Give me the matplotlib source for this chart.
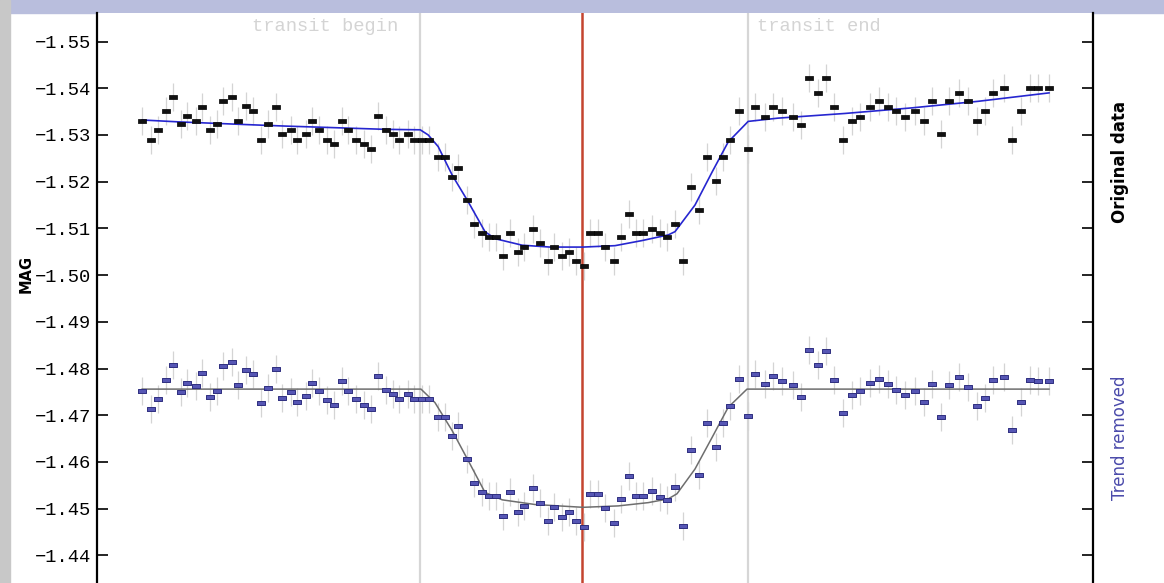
import matplotlib.pyplot as plt
from matplotlib.patches import Rectangle
from matplotlib.transforms import blended_transform_factory

# time (minutes, arbitrary zero) and magnitudes
times = [11.3, 13.5, 15.2, 17.2, 18.9, 20.9, 22.6, 24.7, 26.3, 28.3,
         30.0, 31.4, 33.7, 35.3, 37.3, 39.0, 40.9, 42.7, 44.8, 46.3,
         48.4, 50.1, 52.2, 53.8, 55.5, 57.4, 59.3, 61.2, 62.8, 64.8,
         66.7, 68.6, 70.3, 72.2, 73.9, 75.6, 77.7, 79.3, 81.3, 83.0,
         85.2, 87.0, 88.8, 90.3, 92.6, 94.3, 96.2, 98.0, 99.7, 101.5,
         103.2, 105.2, 106.8, 108.9, 110.7, 112.7, 114.3, 116.3, 118.1, 119.7,
         121.7, 123.3, 125.3, 127.1, 129.3, 130.9, 132.9, 134.8, 136.6, 138.7,
         140.8, 142.6, 144.5, 146.6, 148.4, 150.4, 152.6, 154.8, 156.4, 158.3,
         160.5, 162.7, 164.5, 167.0, 169.1, 171.2, 173.9, 176.0, 178.0, 180.2,
         182.2, 184.3, 186.4, 188.7, 190.8, 193.3, 195.4, 197.7, 199.8, 202.0,
         204.5, 206.7, 208.8, 211.0, 213.0, 215.6, 217.7, 219.9, 222.0, 224.1,
         226.7, 228.8, 231.0, 233.3, 235.3, 238.0]

mag_original = [-1.5330, -1.5289, -1.5310, -1.5351, -1.5381, -1.5323, -1.5341, -1.5330, -1.5360, -1.5310,
                -1.5323, -1.5372, -1.5381, -1.5330, -1.5361, -1.5351, -1.5289, -1.5323, -1.5360, -1.5302,
                -1.5310, -1.5289, -1.5302, -1.5330, -1.5310, -1.5289, -1.5280, -1.5330, -1.5310, -1.5289,
                -1.5280, -1.5269, -1.5340, -1.5310, -1.5302, -1.5289, -1.5302, -1.5289, -1.5289, -1.5289,
                -1.5252, -1.5252, -1.5210, -1.5230, -1.5160, -1.5110, -1.5090, -1.5081, -1.5081, -1.5040,
                -1.5090, -1.5049, -1.5060, -1.5098, -1.5068, -1.5031, -1.5060, -1.5040, -1.5049, -1.5031,
                -1.5019, -1.5090, -1.5090, -1.5060, -1.5031, -1.5081, -1.5131, -1.5090, -1.5090, -1.5098,
                -1.5090, -1.5081, -1.5110, -1.5031, -1.5189, -1.5140, -1.5252, -1.5202, -1.5252, -1.5289,
                -1.5351, -1.5269, -1.5360, -1.5339, -1.5360, -1.5351, -1.5339, -1.5322, -1.5422, -1.5389,
                -1.5422, -1.5360, -1.5289, -1.5330, -1.5339, -1.5360, -1.5372, -1.5360, -1.5351, -1.5339,
                -1.5351, -1.5330, -1.5372, -1.5302, -1.5372, -1.5389, -1.5372, -1.5330, -1.5351, -1.5389,
                -1.5401, -1.5289, -1.5351, -1.5401, -1.5401, -1.5401]

mag_detrended = [-1.4752, -1.4713, -1.4735, -1.4776, -1.4808, -1.4749, -1.4770, -1.4763, -1.4791, -1.4740,
                 -1.4752, -1.4805, -1.4814, -1.4764, -1.4796, -1.4788, -1.4726, -1.4758, -1.4799, -1.4737,
                 -1.4749, -1.4729, -1.4741, -1.4770, -1.4752, -1.4732, -1.4723, -1.4773, -1.4752, -1.4735,
                 -1.4723, -1.4714, -1.4785, -1.4755, -1.4746, -1.4735, -1.4746, -1.4735, -1.4735, -1.4735,
                 -1.4697, -1.4697, -1.4656, -1.4676, -1.4606, -1.4555, -1.4535, -1.4527, -1.4527, -1.4485,
                 -1.4535, -1.4494, -1.4506, -1.4544, -1.4513, -1.4473, -1.4503, -1.4482, -1.4493, -1.4473,
                 -1.4461, -1.4532, -1.4532, -1.4502, -1.4470, -1.4520, -1.4569, -1.4528, -1.4528, -1.4538,
                 -1.4526, -1.4518, -1.4546, -1.4464, -1.4626, -1.4573, -1.4683, -1.4632, -1.4683, -1.4720,
                 -1.4778, -1.4698, -1.4788, -1.4767, -1.4784, -1.4773, -1.4764, -1.4740, -1.4840, -1.4808,
                 -1.4837, -1.4776, -1.4705, -1.4743, -1.4752, -1.4769, -1.4778, -1.4767, -1.4754, -1.4743,
                 -1.4752, -1.4729, -1.4767, -1.4696, -1.4764, -1.4781, -1.4761, -1.4720, -1.4737, -1.4776,
                 -1.4781, -1.4669, -1.4729, -1.4776, -1.4773, -1.4773]

mag_err = 0.003

# fitted transit models
model_t_orig = [11.3, 20.3, 37.8, 47.0, 57.8, 72.0, 80.8, 82.8, 85.3, 88.8,
                92.8, 97.0, 99.5, 106.3, 113.3, 121.5, 129.5, 136.3, 142.8, 144.5,
                149.5, 153.8, 157.8, 162.8, 170.3, 187.0, 203.8, 220.3, 238.0]
model_orig = [-1.5332, -1.5328, -1.5322, -1.5319, -1.5316, -1.5312, -1.5311, -1.5300, -1.5275, -1.5214,
              -1.5157, -1.5093, -1.5078, -1.5064, -1.5060, -1.5060, -1.5063, -1.5074, -1.5086, -1.5093,
              -1.5150, -1.5221, -1.5285, -1.5329, -1.5336, -1.5346, -1.5358, -1.5372, -1.5390]

model_t_flat = [11.3, 81.0, 84.5, 88.8, 92.8, 97.0, 101.3, 109.5, 121.5, 130.3,
                137.8, 142.8, 145.0, 149.5, 153.8, 157.8, 162.5, 238.0]
model_flat = [-1.4756, -1.4756, -1.4727, -1.4667, -1.4603, -1.4535, -1.4519, -1.4509, -1.4503, -1.4506,
              -1.4513, -1.4521, -1.4532, -1.4585, -1.4653, -1.4717, -1.4756, -1.4756]

t_begin, t_mid, t_end = 80.75, 121.25, 162.75
y_ticks = [-1.55, -1.54, -1.53, -1.52, -1.51, -1.50, -1.49, -1.48, -1.47, -1.46, -1.45, -1.44]

plt.rcParams['font.family'] = ['Liberation Mono', 'DejaVu Sans']

fig = plt.figure(figsize=(11.64, 5.83), dpi=100)
fig.add_artist(Rectangle((0, 1 - 13 / 583), 1, 13 / 583, transform=fig.transFigure,
                         color='#b9bedd', zorder=0))
fig.add_artist(Rectangle((0, 0), 10 / 1164, 1, transform=fig.transFigure,
                         color='#c8c8c8', zorder=0))

ax = fig.add_axes([97 / 1164, 0, 996 / 1164, 1 - 13 / 583])
ax.set_xlim(0, 249)
ax.set_ylim(-1.4341, -1.5561)

# transit markers
ax.axvline(t_begin, color='#d6d6d6', lw=1.6, zorder=1)
ax.axvline(t_end, color='#d6d6d6', lw=1.6, zorder=1)
ax.axvline(t_mid, color='#c4442f', lw=1.8, zorder=2)
trans = blended_transform_factory(ax.transData, ax.transAxes)
ax.text(t_begin - 5.5, 0.977, 'transit begin', transform=trans, ha='right', va='center',
        color='#d4d4d4', fontsize=13.5)
ax.text(t_end + 2.2, 0.977, 'transit end', transform=trans, ha='left', va='center',
        color='#d4d4d4', fontsize=13.5)

# error bars
ax.errorbar(times, mag_original, yerr=mag_err, fmt='none', ecolor='#d4d4d4', elinewidth=0.9, zorder=2)
ax.errorbar(times, mag_detrended, yerr=mag_err, fmt='none', ecolor='#d4d4d4', elinewidth=0.9, zorder=2)

# models
ax.plot(model_t_orig, model_orig, color='#2626d0', lw=1.2, zorder=3)
ax.plot(model_t_flat, model_flat, color='#6e6e6e', lw=1.1, zorder=3)

# data points
box = [(-1.8, -1.05), (1.8, -1.05), (1.8, 1.05), (-1.8, 1.05), (-1.8, -1.05)]
ax.plot(times, mag_original, ls='none', marker=box, markersize=6,
        mfc='#111111', mec='#000000', mew=0.5, zorder=4)
ax.plot(times, mag_detrended, ls='none', marker=box, markersize=6,
        mfc='#5656b4', mec='#2f2f80', mew=0.7, zorder=4)

ax.set_yticks(y_ticks)
ax.set_yticklabels([f"{v:.2f}".replace('-', '\u2212') for v in y_ticks], fontsize=13.5)
ax.set_xticks([])
ax.tick_params(axis='y', direction='in', length=8, width=1.2, left=True, right=True,
               labelleft=True, labelright=False, pad=4)
for side in ['top', 'bottom']:
    ax.spines[side].set_visible(False)
for side in ['left', 'right']:
    ax.spines[side].set_linewidth(1.6)

# axis captions
fig.text(26 / 1164, 1 - 274 / 583, 'MAG', rotation=90, ha='center', va='center',
         fontsize=10.5, fontweight='bold', family='DejaVu Sans')
fig.text(1120 / 1164, 1 - 162 / 583, 'Original data', rotation=90, ha='center', va='center',
         fontsize=12, fontweight='bold', family='DejaVu Sans')
fig.text(1120 / 1164, 1 - 438 / 583, 'Trend removed', rotation=90, ha='center', va='center',
         fontsize=12, color='#4b4bab', family='DejaVu Sans')

fig.savefig('out.png', dpi=100)
